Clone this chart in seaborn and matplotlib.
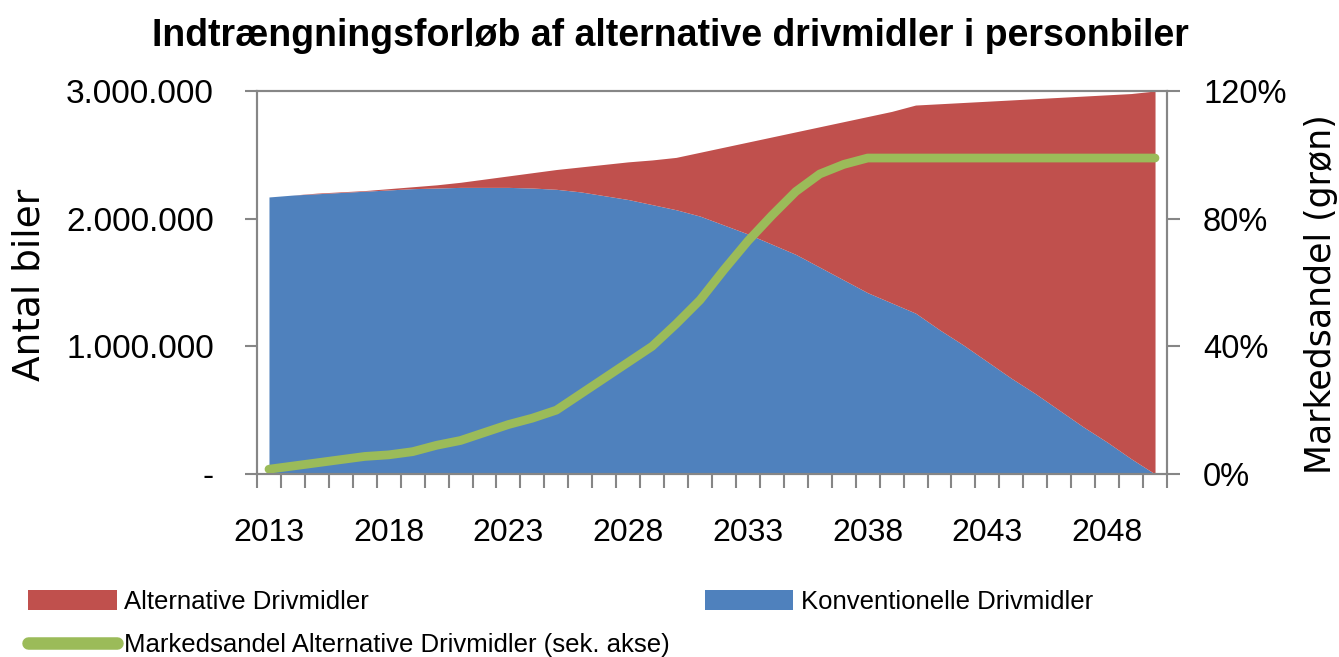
import numpy as np
import pandas as pd
import matplotlib
matplotlib.use("Agg")
import matplotlib.pyplot as plt
import seaborn as sns
from matplotlib.patches import Patch
from matplotlib.lines import Line2D
from matplotlib.ticker import FuncFormatter

# data (millions of cars and market share in %)
years = list(range(2013, 2051))
konventionelle = [2.17, 2.185, 2.195, 2.205, 2.215, 2.225, 2.235, 2.24, 2.245, 2.245,
                  2.245, 2.24, 2.23, 2.21, 2.18, 2.15, 2.11, 2.07, 2.02, 1.95,
                  1.88, 1.80, 1.72, 1.62, 1.52, 1.42, 1.34, 1.26, 1.13, 1.01,
                  0.88, 0.75, 0.63, 0.50, 0.37, 0.25, 0.12, 0.0]
alternative = [0.0, 0.0, 0.005, 0.005, 0.005, 0.01, 0.015, 0.025, 0.04, 0.065,
               0.09, 0.12, 0.155, 0.195, 0.245, 0.295, 0.35, 0.41, 0.50, 0.61,
               0.72, 0.84, 0.96, 1.10, 1.24, 1.38, 1.50, 1.63, 1.77, 1.90,
               2.04, 2.18, 2.31, 2.45, 2.59, 2.72, 2.86, 3.00]
markedsandel = [1.5, 2.5, 3.5, 4.5, 5.5, 6.0, 7.0, 9.0, 10.5, 13.0,
                15.5, 17.5, 20.0, 25.0, 30.0, 35.0, 40.0, 47.0, 54.5, 64.0,
                73.0, 81.0, 88.5, 94.0, 97.0, 99.0, 99.0, 99.0, 99.0, 99.0,
                99.0, 99.0, 99.0, 99.0, 99.0, 99.0, 99.0, 99.0]
label_years = [2013, 2018, 2023, 2028, 2033, 2038, 2043, 2048]

red = "#C0504D"
blue = "#4F81BD"
green = "#9BBB59"
grey = "#868686"

df = pd.DataFrame({"aar": years,
                   "konv": np.array(konventionelle) * 1e6,
                   "alt": np.array(alternative) * 1e6,
                   "andel": markedsandel})

sns.set_style("white")
plt.rcParams["font.family"] = ["Liberation Sans", "DejaVu Sans"]
plt.rcParams["text.color"] = "black"
plt.rcParams["xtick.color"] = grey
plt.rcParams["ytick.color"] = grey
plt.rcParams["xtick.labelcolor"] = "black"
plt.rcParams["ytick.labelcolor"] = "black"

fig = plt.figure(figsize=(13.39, 6.57), dpi=100)
ax = fig.add_axes([257 / 1339, 1 - 474 / 657, 910 / 1339, 383 / 657])

ax.stackplot(df["aar"], df["konv"], df["alt"], colors=[blue, red], linewidth=0)
ax.set_xlim(2012.5, 2050.5)
ax.set_ylim(0, 3e6)
ax.set_yticks([0, 1e6, 2e6, 3e6])
ax.yaxis.set_major_formatter(FuncFormatter(
    lambda v, p: "-" if v == 0 else f"{int(v):,}".replace(",", ".")))
ax.set_xticks(label_years)
ax.set_xticks(np.arange(2012.5, 2051, 1), minor=True)

ax2 = ax.twinx()
sns.lineplot(data=df, x="aar", y="andel", ax=ax2, color=green, linewidth=6.3,
             solid_capstyle="round")
ax2.set_ylim(0, 120)
ax2.set_yticks([0, 40, 80, 120])
ax2.yaxis.set_major_formatter(FuncFormatter(lambda v, p: f"{int(v)}%"))
ax2.set_xlim(2012.5, 2050.5)
ax2.set_xlabel("")
ax2.set_ylabel("")

for a in (ax, ax2):
    for s in a.spines.values():
        s.set_color(grey)
        s.set_linewidth(1.5)
        s.set_visible(True)

ax.tick_params(axis="x", which="major", length=0, pad=32, labelsize=23)
ax.tick_params(axis="x", which="minor", length=10, width=1.5, bottom=True)
ax.tick_params(axis="y", length=9, width=1.5, pad=22, labelsize=24, left=True)
ax2.tick_params(axis="y", length=9, width=1.5, pad=17, labelsize=23.5, right=True)

fig.text(0.501, 1 - 46 / 657, "Indtrængningsforløb af alternative drivmidler i personbiler",
         ha="center", va="baseline", fontsize=27, fontweight="bold")
fig.text(30 / 1339, 1 - 285 / 657, "Antal biler", rotation=90, ha="center", va="center",
         fontsize=27, family=["DejaVu Sans"])
fig.text(1321 / 1339, 1 - 294 / 657, "Markedsandel (grøn)", rotation=90, ha="center",
         va="center", fontsize=25, family=["DejaVu Sans"])

handles = [Patch(facecolor=red, edgecolor="none"),
           Line2D([0], [0], color=green, linewidth=9, solid_capstyle="round"),
           Patch(facecolor=blue, edgecolor="none")]
labels = ["Alternative Drivmidler",
          "Markedsandel Alternative Drivmidler (sek. akse)",
          "Konventionelle Drivmidler"]
fig.legend(handles, labels, ncol=2, loc="upper left", bbox_to_anchor=(28 / 1339, 1 - 590 / 657),
           frameon=False, borderpad=0, borderaxespad=0, fontsize=18.5, handlelength=3.45,
           handleheight=0.78, handletextpad=0.3, labelspacing=0.75, columnspacing=1.35)

fig.savefig("out.png", dpi=100)
